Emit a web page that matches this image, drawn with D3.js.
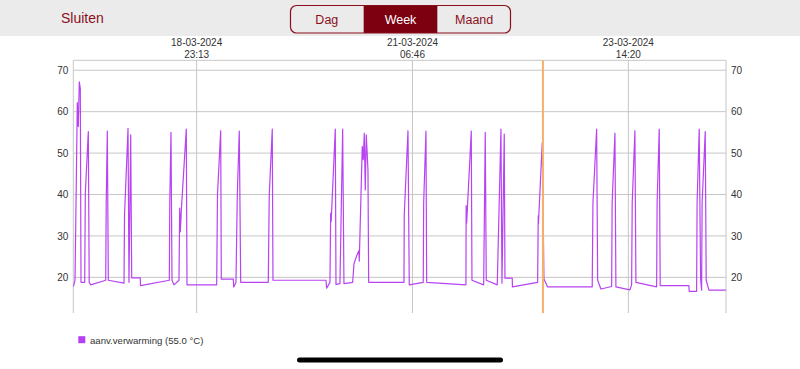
<!DOCTYPE html>
<html>
<head>
<meta charset="utf-8">
<script src="https://cdn.jsdelivr.net/npm/d3@7"></script>
<style>
    body { margin: 0; background: #fff; }
    svg { display: block; font-family: "Liberation Sans", Arial, sans-serif; }
</style>
</head>
<body>
<svg id="chart" width="800" height="369"></svg>
<script>
// measurement times, in hours since 17-03-2024 00:00
const hours = [
    15.52, 15.91, 16.50, 16.76, 17.01, 17.27, 17.45, 18.40, 18.56, 19.33, 19.56, 19.95,
    23.81, 23.94, 24.22, 24.48, 28.52, 28.65, 29.55, 29.80, 30.24, 30.50, 32.71, 32.76,
    40.18, 40.30, 40.61, 40.87, 41.39, 42.67, 42.85, 43.01, 43.32, 44.55, 44.73,
    52.37, 52.58, 53.40, 53.56, 56.65, 56.75, 57.34, 57.68, 58.19, 58.55, 65.65, 65.91, 66.68, 66.86,
    80.50, 80.68, 81.53, 81.71, 81.84, 82.90, 83.08, 84.10, 84.80, 85.13,
    87.37, 87.71, 88.40, 89.00, 89.07, 89.84, 90.10, 90.36, 90.62, 90.87, 91.31, 91.49,
    100.58, 100.65, 101.61, 101.94, 105.54, 105.65, 106.24, 106.42,
    116.53, 116.58, 116.71, 117.90, 118.08, 121.09, 121.50, 121.76,
    124.59, 125.54, 125.80, 126.39, 126.57, 128.45, 128.50,
    134.98, 135.14, 135.19, 136.17, 136.61, 137.56,
    149.03, 149.22, 150.17, 150.43, 151.27, 154.03, 154.16, 154.88, 155.13,
    158.74, 159.17, 159.33, 160.02, 160.28, 165.61, 165.74, 166.28, 166.53,
    173.92, 174.00, 175.90, 176.03, 176.57, 176.93, 177.19, 177.32, 178.12, 178.37, 179.07, 183.44
];
// temperature in °C
const temps = [
    17.8, 19.4, 62.2, 56.4, 67.2, 65.6, 18.8, 18.8, 40.3, 55.2, 18.8, 18.2,
    19.3, 38, 55.3, 19.3, 18.6, 35, 56.0, 18.8, 54.4, 19.9, 19.9, 18.0,
    19.3, 38, 55.0, 19.3, 18.2, 19.3, 36.7, 31.0, 37.0, 55.8, 18.2,
    18.2, 40, 55.4, 19.6, 19.6, 17.7, 18.8, 40, 55.3, 18.8, 18.8, 40, 55.8, 19.3,
    19.3, 17.4, 18.8, 35.5, 33.5, 55.8, 18.3, 18.5, 55.8, 18.5,
    18.8, 23.3, 25.2, 26.5, 23.9, 51.6, 48.4, 54.8, 41.1, 54.4, 46.0, 18.8,
    18.8, 35, 55.4, 18.2, 18.8, 38, 55.3, 18.8,
    18.2, 37.3, 33.1, 55.3, 19.3, 18.2, 55.0, 19.3,
    18.2, 55.8, 18.6, 54.6, 19.8, 19.8, 17.7,
    18.8, 34.9, 33.0, 52.5, 19.6, 17.7,
    17.7, 38, 55.8, 19.3, 17.2, 17.8, 38, 54.8, 17.7,
    17.0, 18.2, 38, 55.4, 18.8, 17.7, 38, 55.8, 18.0,
    18.0, 16.6, 16.6, 38, 55.8, 19.6, 16.9, 38, 55.2, 19.3, 16.9, 16.9
];
const rangeStart = "2024-03-17T15:28";
const rangeEnd = "2024-03-24T15:28";
const dateTicks = ["2024-03-18T23:13", "2024-03-21T06:46", "2024-03-23T14:20"];
const markerTime = "2024-03-22T16:21";
const yDomain = [11.4, 72.4];
const yTicks = [20, 30, 40, 50, 60, 70];
const tabs = ["Dag", "Week", "Maand"];
const activeTab = "Week";
const seriesName = "aanv.verwarming";
const seriesCurrent = 55.0;

const RED = "#8a0f1c";
const LINE = "#b843f2";
const GRID = "#c6c6c6";
const plot = { left: 73.3, right: 726, top: 60.3, bottom: 313 };

const parse = d3.timeParse("%Y-%m-%dT%H:%M");
const base = new Date(2024, 2, 17);
const points = hours.map((h, i) => ({ t: new Date(base.getTime() + h * 3600000), v: temps[i] }));

const svg = d3.select("#chart");

const x = d3.scaleTime()
            .domain([parse(rangeStart), parse(rangeEnd)])
            .range([plot.left, plot.right]);
const y = d3.scaleLinear()
            .domain(yDomain)
            .range([plot.bottom, plot.top]);

// header bar
svg.append("rect")
   .attr("width", 800)
   .attr("height", 36)
   .attr("fill", "#ebebeb");
svg.append("text")
   .attr("x", 61)
   .attr("y", 23)
   .attr("fill", RED)
   .style("font-size", "14px")
   .text("Sluiten");

const tabX = d3.scaleBand()
               .domain(tabs)
               .range([290, 511]);
const tabG = svg.append("g");
tabG.selectAll("rect.tab")
    .data(tabs.filter((t) => t == activeTab))
    .join("rect")
    .attr("class", "tab")
    .attr("x", (d) => tabX(d))
    .attr("y", 5.5)
    .attr("width", tabX.bandwidth())
    .attr("height", 27.5)
    .attr("fill", "#7c0010");
tabG.append("rect")
    .attr("x", 290.5)
    .attr("y", 5.5)
    .attr("width", 220)
    .attr("height", 27.5)
    .attr("rx", 6)
    .attr("fill", "none")
    .attr("stroke", RED)
    .attr("stroke-width", 1.2);
tabG.selectAll("text")
    .data(tabs)
    .join("text")
    .attr("x", (d) => tabX(d) + tabX.bandwidth() / 2)
    .attr("y", 24)
    .attr("text-anchor", "middle")
    .attr("fill", (d) => d == activeTab ? "#fff" : RED)
    .style("font-size", "12.5px")
    .text((d) => d);

// grid
const grid = svg.append("g");
grid.selectAll("line.h")
    .data(yTicks)
    .join("line")
    .attr("class", "h")
    .attr("x1", plot.left)
    .attr("x2", plot.right)
    .attr("y1", (d) => y(d))
    .attr("y2", (d) => y(d))
    .attr("stroke", GRID);
grid.selectAll("line.v")
    .data(dateTicks.map(parse))
    .join("line")
    .attr("class", "v")
    .attr("x1", (d) => x(d))
    .attr("x2", (d) => x(d))
    .attr("y1", plot.top)
    .attr("y2", plot.bottom)
    .attr("stroke", GRID);
grid.append("path")
    .attr("d", `M${plot.left},${plot.bottom}V${plot.top}H${plot.right}V${plot.bottom}`)
    .attr("fill", "none")
    .attr("stroke", GRID);

// y labels on both sides
const leftAxis = svg.append("g")
                    .attr("transform", `translate(${plot.left},0)`)
                    .call(d3.axisLeft(y).tickValues(yTicks).tickSize(0).tickPadding(5));
const rightAxis = svg.append("g")
                     .attr("transform", `translate(${plot.right},0)`)
                     .call(d3.axisRight(y).tickValues(yTicks).tickSize(0).tickPadding(5));
for (const ax of [leftAxis, rightAxis]) {
    ax.select(".domain").remove();
    ax.selectAll("text")
      .attr("fill", "#333")
      .style("font-size", "10px")
      .style("font-family", "'Liberation Sans', Arial, sans-serif");
}

// date labels on top
const dateFmt = d3.timeFormat("%d-%m-%Y");
const timeFmt = d3.timeFormat("%H:%M");
const topLabels = svg.append("g")
                     .selectAll("text")
                     .data(dateTicks.map(parse))
                     .join("text")
                     .attr("text-anchor", "middle")
                     .attr("fill", "#333")
                     .style("font-size", "10px");
topLabels.append("tspan")
         .attr("x", (d) => x(d))
         .attr("y", 45.5)
         .text(dateFmt);
topLabels.append("tspan")
         .attr("x", (d) => x(d))
         .attr("y", 58)
         .text(timeFmt);

// series
const line = d3.line()
               .x((d) => x(d.t))
               .y((d) => y(d.v));
svg.append("path")
   .datum(points)
   .attr("d", line)
   .attr("fill", "none")
   .attr("stroke", LINE)
   .attr("stroke-width", 1.2)
   .attr("stroke-linejoin", "round");

// marker
svg.append("line")
   .attr("x1", x(parse(markerTime)))
   .attr("x2", x(parse(markerTime)))
   .attr("y1", plot.top)
   .attr("y2", plot.bottom)
   .attr("stroke", "#f7b06a")
   .attr("stroke-width", 2);

// legend
svg.append("rect")
   .attr("x", 78.3)
   .attr("y", 336.2)
   .attr("width", 7)
   .attr("height", 7)
   .attr("fill", "#b43ff3");
svg.append("text")
   .attr("x", 90)
   .attr("y", 343.5)
   .attr("fill", "#333")
   .style("font-size", "9.6px")
   .text(`${seriesName} (${seriesCurrent.toFixed(1)} °C)`);

// home indicator
svg.append("rect")
   .attr("x", 297)
   .attr("y", 357.5)
   .attr("width", 206)
   .attr("height", 5)
   .attr("rx", 2.5)
   .attr("fill", "#000");
</script>
</body>
</html>
